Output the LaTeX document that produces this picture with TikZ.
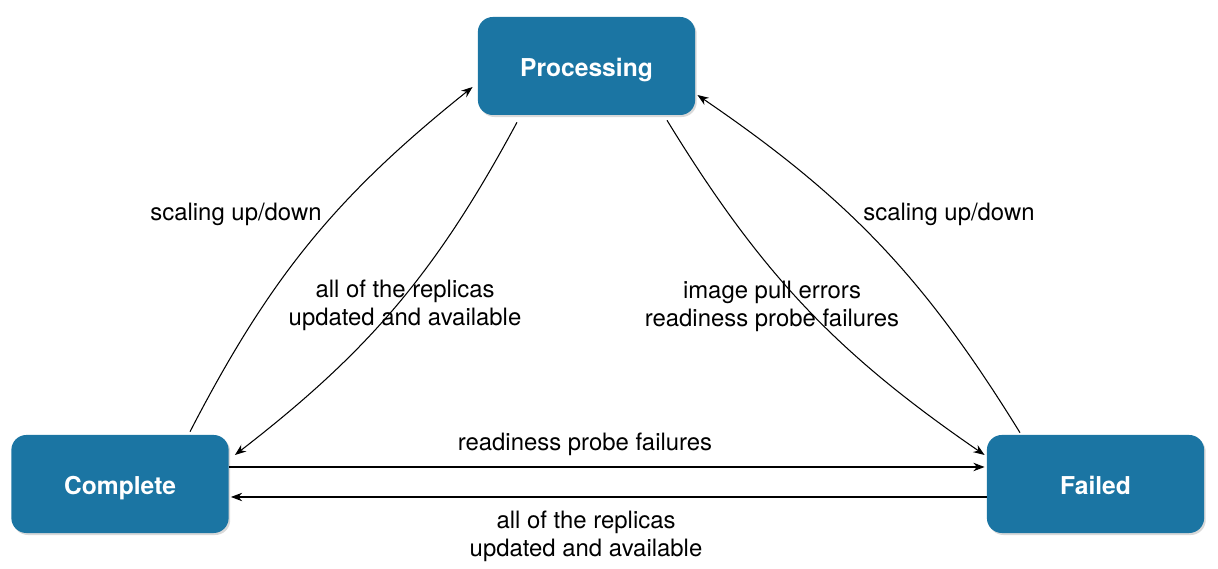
\documentclass[tikz,border=0pt]{standalone}
\usepackage{fontspec}
\setmainfont{TeX Gyre Heros}
\usetikzlibrary{calc}
\usetikzlibrary{arrows.meta}
\usetikzlibrary{shadows}

\definecolor{statusblue}{RGB}{27,117,163}

\tikzset{
    statebox/.style={rectangle, rounded corners=0.375cm, fill=statusblue, text=white,
        minimum width=5.43cm, minimum height=2.45cm, inner sep=0pt,
        text height=15pt, text depth=0pt,
        font=\fontsize{17.5}{21}\selectfont\bfseries,
        drop shadow={shadow xshift=0.04cm, shadow yshift=-0.05cm, opacity=0.3}},
    trans/.style={-{Stealth[length=8pt,width=6pt]}, line width=0.75pt},
    note/.style={font=\fontsize{17}{20}\selectfont, align=center}
}

\begin{document}
\begin{tikzpicture}[x=0.025cm,y=0.025cm]
                    \useasboundingbox (0,0) rectangle (1218,569);

                    \node[statebox] (proc) at (586.5,503) {Processing};
                    \node[statebox] (cmp)  at (120,85)    {Complete};
                    \node[statebox] (fail) at (1095.5,85) {Failed};

                    % between Complete and Processing
                    \draw[trans] ($(cmp.north)+(70,3)$) to[bend left=12] ($(proc.west)+(-5,-21)$);
                    \draw[trans] ($(proc.south)+(-69.5,-7)$) to[bend left=12] ($(cmp.east)+(6,29)$);

                    % between Processing and Failed
                    \draw[trans] ($(proc.south)+(80.5,-5)$) to[bend right=12] ($(fail.west)+(-2,29)$);
                    \draw[trans] ($(fail.north)+(-75.5,2)$) to[bend right=12] ($(proc.east)+(2,-29)$);

                    % between Complete and Failed
                    \draw[trans] ($(cmp.east)+(0,17)$) -- ($(fail.west)+(-2,17)$);
                    \draw[trans] ($(fail.west)+(0,-13)$) -- ($(cmp.east)+(2,-13)$);

                    \node[note] (upleft)   at (236,355)   {scaling up/down};
                    \node[note] (doneleft) at (405,264)   {all of the replicas\\updated and available};
                    \node[note] (errs)     at (772,263)   {image pull errors\\readiness probe failures};
                    \node[note] (upright)  at (949,355)   {scaling up/down};
                    \node[note] (probe)    at (585,125)   {readiness probe failures};
                    \node[note] (donebot)  at (586,33)    {all of the replicas\\updated and available};
                \end{tikzpicture}
\end{document}
